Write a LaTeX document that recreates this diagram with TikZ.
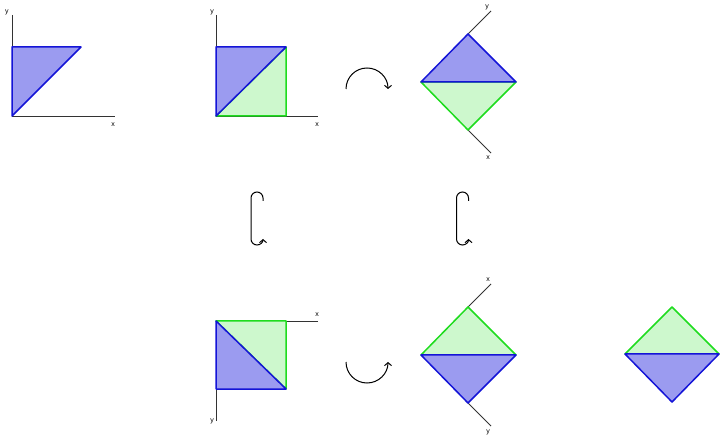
\documentclass[tikz,border=0pt]{standalone}
\usepackage{fontspec}
\setsansfont{Liberation Sans}
\usetikzlibrary{arrows.meta, calc}
\definecolor{bluefill}{RGB}{155,155,240}
\definecolor{blueline}{RGB}{20,20,215}
\definecolor{greenfill}{RGB}{205,248,205}
\definecolor{greenline}{RGB}{30,220,30}

\begin{document}
\begin{tikzpicture}[x=1pt, y=-1pt,
    bluetri/.style={draw=blueline, fill=bluefill, line width=1.5pt, line join=round},
    greentri/.style={draw=greenline, fill=greenfill, line width=1.5pt, line join=round},
    axis/.style={draw=black!80, line width=0.9pt},
    lbl/.style={font=\sffamily\fontsize{7}{8}\selectfont, inner sep=0pt},
    turn/.style={draw=black, line width=1pt, -{Straight Barb[length=3pt,width=7pt]}}
]
    \useasboundingbox (0,0) rectangle (720,435);

    % panel 1: the triangle alone
    \coordinate (o1) at (12,116);
    \coordinate (y1) at (12,47);
    \coordinate (d1) at (81,47);
    \draw[axis] (12,15) -- (o1) -- (115,116);
    \draw[bluetri] (o1) -- (y1) -- (d1) -- cycle;
    \node[lbl] (ly1) at (7,12) {y};
    \node[lbl] (lx1) at (113,125) {x};

    % panel 2: completed square
    \coordinate (o2) at (216,116);
    \coordinate (x2) at (286,116);
    \coordinate (d2) at (286,47);
    \coordinate (y2) at (216,47);
    \draw[axis] (216,15) -- (o2) -- (318,116);
    \draw[greentri] (o2) -- (x2) -- (d2) -- cycle;
    \draw[bluetri] (o2) -- (y2) -- (d2) -- cycle;
    \node[lbl] (ly2) at (212,12) {y};
    \node[lbl] (lx2) at (317,125) {x};

    % panel 3: square turned clockwise
    \coordinate (o3) at (421,82);
    \coordinate (y3) at (468,34);
    \coordinate (d3) at (516,82);
    \coordinate (x3) at (468,130);
    \coordinate (ey3) at (491,11);
    \coordinate (ex3) at (491,153);
    \draw[axis] (y3) -- (ey3);
    \draw[axis] (x3) -- (ex3);
    \draw[greentri] (o3) -- (x3) -- (d3) -- cycle;
    \draw[bluetri] (o3) -- (y3) -- (d3) -- cycle;
    \node[lbl] (ly3) at (487,7) {y};
    \node[lbl] (lx3) at (488,158) {x};

    % panel 4: square flipped
    \coordinate (o4) at (216,321);
    \coordinate (x4) at (286,321);
    \coordinate (d4) at (286,389);
    \coordinate (y4) at (216,389);
    \draw[axis] (318,321) -- (o4) -- (216,421);
    \draw[greentri] (o4) -- (x4) -- (d4) -- cycle;
    \draw[bluetri] (o4) -- (y4) -- (d4) -- cycle;
    \node[lbl] (lx4) at (317,315) {x};
    \node[lbl] (ly4) at (212,421) {y};

    % panel 5: flipped square turned
    \coordinate (o5) at (421,355);
    \coordinate (x5) at (468,307);
    \coordinate (d5) at (516,355);
    \coordinate (y5) at (468,403);
    \coordinate (ex5) at (491,284);
    \coordinate (ey5) at (491,426);
    \draw[axis] (x5) -- (ex5);
    \draw[axis] (y5) -- (ey5);
    \draw[greentri] (o5) -- (x5) -- (d5) -- cycle;
    \draw[bluetri] (o5) -- (y5) -- (d5) -- cycle;
    \node[lbl] (lx5) at (488,280) {x};
    \node[lbl] (ly5) at (488,432) {y};

    % panel 6: result without axes
    \coordinate (o6) at (625,354);
    \coordinate (x6) at (672,307);
    \coordinate (d6) at (719,354);
    \coordinate (y6) at (672,402);
    \draw[greentri] (o6) -- (x6) -- (d6) -- cycle;
    \draw[bluetri] (o6) -- (y6) -- (d6) -- cycle;

    % turning arrows
    \draw[turn] (346,89) arc[start angle=180, end angle=0, radius=21pt];
    \draw[turn] (346,362) arc[start angle=180, end angle=360, radius=21pt];

    % flipping arrows
    \foreach \hx in {257,462.5} {
        \draw[turn] (\hx+6,201) -- (\hx+6,198)
            arc[start angle=0, end angle=180, radius=6pt] -- (\hx-6,239)
            arc[start angle=180, end angle=360, radius=6pt];
    }
\end{tikzpicture}
\end{document}
